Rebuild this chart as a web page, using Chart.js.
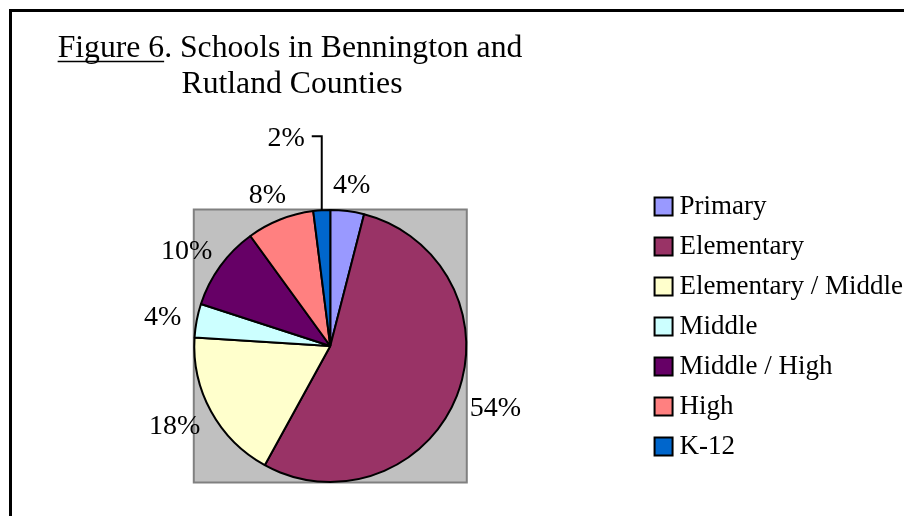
<!DOCTYPE html>
<html><head><meta charset="utf-8">
<style>html,body{margin:0;padding:0;background:#fff;} canvas{display:block;}</style>
<script src="https://cdn.jsdelivr.net/npm/chart.js@4.4.1/dist/chart.umd.min.js"></script>
</head><body>
<canvas id="c" width="904" height="516"></canvas>
<script>
// ---- data ----
const categories = ['Primary', 'Elementary', 'Elementary / Middle', 'Middle', 'Middle / High', 'High', 'K-12'];
const shares = [4, 54, 18, 4, 10, 8, 2];
const sliceColors = ['#9999FF', '#993366', '#FFFFCC', '#CCFFFF', '#660066', '#FF8080', '#0066CC'];
const titleUnderlined = 'Figure 6';
const titleRest = '. Schools in Bennington and';
const titleLine2 = 'Rutland Counties';

const FONT = "'Liberation Serif', 'Times New Roman', serif";

const framePlugin = {
  id: 'frame',
  beforeDraw(chart) {
    const ctx = chart.ctx;
    ctx.save();
    ctx.fillStyle = '#fff';
    ctx.fillRect(0, 0, chart.width, chart.height);
    // outer border (cropped on right/bottom)
    ctx.strokeStyle = '#000';
    ctx.lineWidth = 3;
    ctx.beginPath();
    ctx.moveTo(10.5, chart.height + 5);
    ctx.lineTo(10.5, 10.5);
    ctx.lineTo(chart.width + 5, 10.5);
    ctx.stroke();
    // title
    ctx.fillStyle = '#000';
    ctx.font = '31.7px ' + FONT;
    ctx.textBaseline = 'alphabetic';
    ctx.textAlign = 'left';
    const wU = ctx.measureText(titleUnderlined).width;
    const wR = ctx.measureText(titleRest).width;
    const x0 = 290 - (wU + wR) / 2;
    ctx.fillText(titleUnderlined, x0, 57);
    ctx.fillText(titleRest, x0 + wU, 57);
    ctx.lineWidth = 1.6;
    ctx.beginPath();
    ctx.moveTo(x0, 61.5);
    ctx.lineTo(x0 + wU, 61.5);
    ctx.stroke();
    ctx.textAlign = 'center';
    ctx.fillText(titleLine2, 292, 93);
    ctx.restore();
  }
};

const plotAreaPlugin = {
  id: 'plotArea',
  beforeDatasetsDraw(chart) {
    const arc = chart.getDatasetMeta(0).data[0];
    if (!arc) return;
    const {x, y, outerRadius} = arc.getProps(['x', 'y', 'outerRadius'], true);
    const h = outerRadius + 0.5;
    const ctx = chart.ctx;
    ctx.save();
    ctx.fillStyle = '#C0C0C0';
    ctx.fillRect(x - h, y - h, 2 * h, 2 * h);
    ctx.strokeStyle = '#808080';
    ctx.lineWidth = 2;
    ctx.strokeRect(x - h, y - h, 2 * h, 2 * h);
    ctx.restore();
  }
};

const pctLabelPlugin = {
  id: 'pctLabels',
  afterDatasetsDraw(chart) {
    const meta = chart.getDatasetMeta(0);
    const ds = chart.data.datasets[0];
    const total = ds.data.reduce((a, b) => a + b, 0);
    const ctx = chart.ctx;
    ctx.save();
    ctx.font = '28px ' + FONT;
    ctx.fillStyle = '#000';
    ctx.strokeStyle = '#000';
    meta.data.forEach((arc, i) => {
      const {x, y, startAngle, endAngle, outerRadius: r} =
        arc.getProps(['x', 'y', 'startAngle', 'endAngle', 'outerRadius'], true);
      const mid = (startAngle + endAngle) / 2;
      const ux = Math.cos(mid), uy = Math.sin(mid);
      const pct = Math.round(ds.data[i] / total * 100);
      const txt = pct + '%';
      const w = ctx.measureText(txt).width;
      ctx.textBaseline = 'middle';
      if (pct < 3) {
        const ex = x + ux * r, ey = y + uy * r;
        const ly = ey - 74;
        ctx.lineWidth = 2;
        ctx.beginPath();
        ctx.moveTo(ex, ey);
        ctx.lineTo(ex, ly);
        ctx.lineTo(ex - 10, ly);
        ctx.stroke();
        ctx.textAlign = 'right';
        ctx.fillText(txt, ex - 17, ly + 2);
      } else {
        const d = r + 16;
        const cx = x + ux * d + ux * w / 2;
        const cy = y + uy * d + uy * 12 + 2;
        ctx.textAlign = 'center';
        ctx.fillText(txt, cx, cy);
      }
    });
    ctx.restore();
  }
};

new Chart(document.getElementById('c'), {
  type: 'pie',
  data: {
    labels: categories,
    datasets: [{
      data: shares,
      backgroundColor: sliceColors,
      borderColor: '#000',
      borderWidth: 2,
      hoverOffset: 0,
      radius: 136
    }]
  },
  options: {
    responsive: false,
    animation: false,
    events: [],
    devicePixelRatio: 1,
    layout: { padding: { left: 12.5, right: -9, top: 180, bottom: 4 } },
    plugins: {
      title: { display: false },
      tooltip: { enabled: false },
      legend: {
        position: 'right',
        align: 'start',
        labels: {
          font: { family: FONT, size: 27 },
          color: '#000',
          usePointStyle: true,
          pointStyle: 'rect',
          boxWidth: 5,
          boxHeight: 18,
          padding: 13
        }
      }
    }
  },
  plugins: [framePlugin, plotAreaPlugin, pctLabelPlugin]
});
</script>
</body></html>
